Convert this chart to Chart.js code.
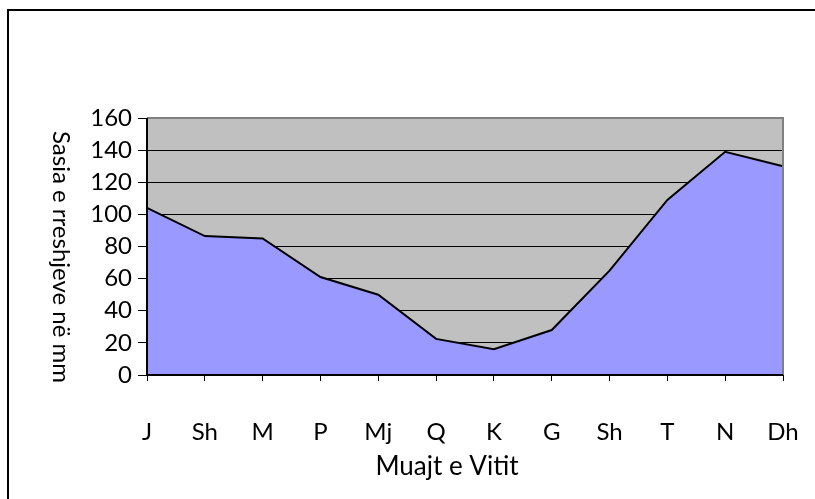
<!DOCTYPE html>
<html lang="sq">
<head>
  <meta charset="utf-8">
  <title>Reshjet mujore</title>
  <style>
    html, body { margin: 0; padding: 0; background: #fff; }
    #wrap { width: 815px; height: 499px; }
  </style>
</head>
<body>
  <div id="wrap"><canvas id="chart"></canvas></div>
  <script src="https://cdn.jsdelivr.net/npm/chart.js"></script>
  <script>
    // muajt dhe sasia e reshjeve (mm)
    var muajt = ['J', 'Sh', 'M', 'P', 'Mj', 'Q', 'K', 'G', 'Sh', 'T', 'N', 'Dh'];
    var reshjet = [104, 86.5, 85, 61, 50, 22.5, 16, 28, 65, 109, 139, 130];
    var yTicks = [0, 20, 40, 60, 80, 100, 120, 140, 160];
    var titullY = 'Sasia e rreshjeve në mm';
    var titullX = 'Muajt e Vitit';

    var fontName = 'Lato, "Open Sans", sans-serif';

    // sfondi gri i zones se grafikut + korniza
    var sfondi = {
      id: 'sfondi',
      beforeDraw: function (chart) {
        var c = chart.ctx, a = chart.chartArea;
        c.save();
        c.fillStyle = '#fff';
        c.fillRect(0, 0, chart.width, chart.height);
        c.fillStyle = '#c0c0c0';
        c.fillRect(a.left, a.top, a.right - a.left, a.bottom - a.top);
        // korniza e jashtme
        c.fillStyle = '#000';
        c.fillRect(7, 9, 2, chart.height - 9);
        c.fillRect(7, 9, chart.width - 7, 2);
        c.restore();
      },
      afterDraw: function (chart) {
        var c = chart.ctx, a = chart.chartArea;
        c.save();
        c.strokeStyle = '#808080';
        c.lineWidth = 2;
        c.beginPath();
        c.moveTo(a.left, a.top);
        c.lineTo(a.right, a.top);
        c.lineTo(a.right, a.bottom);
        c.stroke();
        c.strokeStyle = '#000';
        c.beginPath();
        c.moveTo(a.left, a.top);
        c.lineTo(a.left, a.bottom);
        c.lineTo(a.right, a.bottom);
        c.stroke();
        // titujt e boshteve
        c.fillStyle = '#000';
        c.textAlign = 'center';
        c.textBaseline = 'middle';
        c.font = '26px ' + fontName;
        c.fillText(titullX, 447, 467);
        c.font = '24px ' + fontName;
        c.translate(61, 257);
        c.rotate(Math.PI / 2);
        c.fillText(titullY, 0, 0);
        c.restore();
      }
    };

    new Chart(document.getElementById('chart'), {
      type: 'line',
      data: {
        labels: muajt,
        datasets: [{
          label: 'Reshjet',
          data: reshjet,
          backgroundColor: '#9999ff',
          borderColor: '#000',
          borderWidth: 2,
          fill: 'origin',
          pointRadius: 0,
          tension: 0
        }]
      },
      options: {
        responsive: true,
        maintainAspectRatio: false,
        animation: false,
        layout: { padding: { left: 0, top: 118, right: 32, bottom: 0 } },
        plugins: { legend: { display: false }, tooltip: { enabled: false } },
        scales: {
          x: {
            offset: false,
            grid: { drawOnChartArea: false, drawTicks: true, tickLength: 6, color: '#000' },
            border: { display: false },
            ticks: { color: '#000', padding: 37, maxRotation: 0, autoSkip: false, font: { family: fontName, size: 24 } },
            afterFit: function (s) {
              s.height = 499 - 375;
              s.paddingLeft = 0;
              s.paddingRight = 0;
            }
          },
          y: {
            min: 0,
            max: 160,
            afterBuildTicks: function (s) {
              s.ticks = yTicks.map(function (v) { return { value: v }; });
            },
            grid: { color: '#000', lineWidth: 1, tickLength: 9 },
            border: { display: false },
            ticks: { color: '#000', padding: 6, font: { family: fontName, size: 24 } },
            afterFit: function (s) {
              s.width = 147;
              s.paddingTop = 0;
              s.paddingBottom = 0;
            }
          }
        }
      },
      plugins: [sfondi]
    });
  </script>
</body>
</html>
